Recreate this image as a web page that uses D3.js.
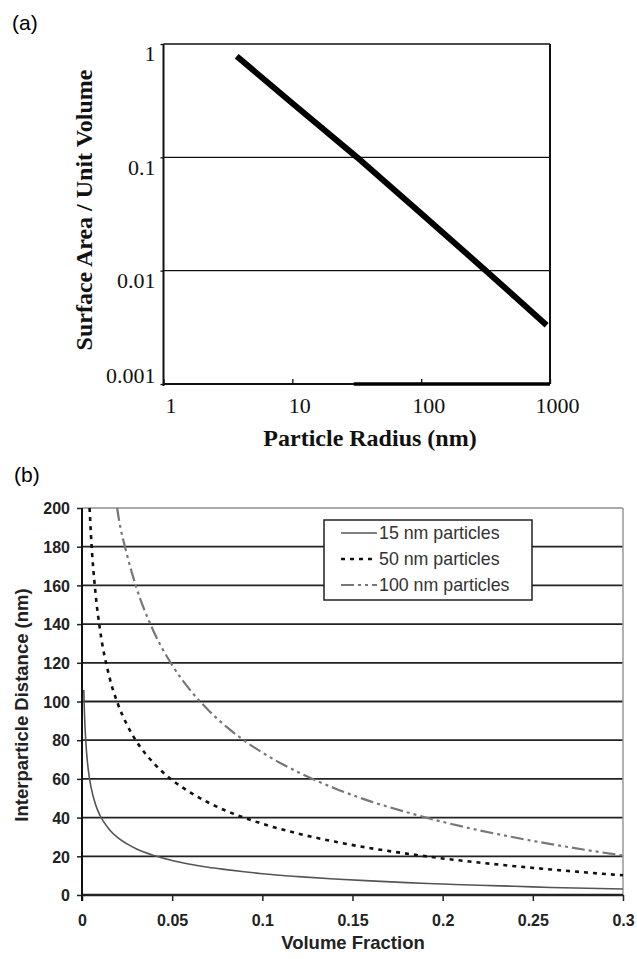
<!DOCTYPE html>
<html lang="en">
<head>
<meta charset="UTF-8">
<title>Surface area and interparticle distance</title>
<style>
  body { margin: 0; background: #fff; }
  svg { display: block; }
</style>
</head>
<body>
<svg id="chart" width="637" height="959"></svg>
<script src="https://d3js.org/d3.v7.min.js"></script>
<script>
// (a) surface area / unit volume against particle radius (log-log)
const radius = [3.7, 10, 31.8, 100, 318, 942];
const surfaceRatio = [0.78, 0.3, 0.1, 0.032, 0.01, 0.0033];
const radiusTicks = [1, 10, 100, 1000];
const ratioTicks = [1, 0.1, 0.01, 0.001];

// (b) interparticle distance against volume fraction
const phi15 = [0.001, 0.0012, 0.0015, 0.002, 0.003, 0.004, 0.005, 0.0075, 0.01, 0.015, 0.02, 0.025, 0.03, 0.04, 0.05, 0.06, 0.07, 0.08, 0.09, 0.1, 0.12, 0.14, 0.16, 0.18, 0.2, 0.22, 0.24, 0.26, 0.28, 0.3];
const dist15 = [105.9, 98.8, 90.6, 81.0, 68.8, 61.2, 55.7, 46.8, 41.1, 34.0, 29.5, 26.4, 23.9, 20.4, 17.8, 15.9, 14.3, 13.1, 12.0, 11.0, 9.5, 8.3, 7.3, 6.4, 5.7, 5.0, 4.5, 3.9, 3.5, 3.1];
const phi50 = [0.0042, 0.005, 0.0075, 0.01, 0.015, 0.02, 0.025, 0.03, 0.04, 0.05, 0.06, 0.07, 0.08, 0.09, 0.1, 0.12, 0.14, 0.16, 0.18, 0.2, 0.22, 0.24, 0.26, 0.28, 0.3];
const dist50 = [200, 185.6, 155.9, 137.0, 113.4, 98.5, 87.9, 79.7, 67.9, 59.4, 53.0, 47.8, 43.5, 39.9, 36.8, 31.7, 27.6, 24.2, 21.4, 18.9, 16.8, 14.9, 13.2, 11.6, 10.2];
const phi100 = [0.0195, 0.02, 0.025, 0.03, 0.04, 0.05, 0.06, 0.07, 0.08, 0.09, 0.1, 0.12, 0.14, 0.16, 0.18, 0.2, 0.22, 0.24, 0.26, 0.28, 0.3];
const dist100 = [200, 196.9, 175.7, 159.4, 135.7, 118.8, 105.9, 95.6, 87.0, 79.8, 73.6, 63.4, 55.2, 48.4, 42.8, 37.8, 33.5, 29.7, 26.3, 23.2, 20.4];
const legendLabels = ["15 nm particles", "50 nm particles", "100 nm particles"];
const phiTicks = [0, 0.05, 0.1, 0.15, 0.2, 0.25, 0.3];
const distTicks = [0, 20, 40, 60, 80, 100, 120, 140, 160, 180, 200];

const svg = d3.select('#chart');
const serif = '"Liberation Serif", "Times New Roman", serif';
const sans = '"Liberation Sans", Arial, sans-serif';

// ---------- panel (a) ----------
const A = { left: 163.5, right: 550, top: 44, bottom: 384 };
const xA = d3.scaleLog().domain([1, 1000]).range([A.left, A.right]);
const yA = d3.scaleLog().domain([0.001, 1]).range([A.bottom, A.top]);
const gA = svg.append('g');

gA.append('text').attr('x', 12).attr('y', 30)
  .attr('font-family', sans).attr('font-size', 21).text('(a)');

// gridlines at inner decades
gA.selectAll('.gridA').data(ratioTicks.slice(1, 3)).enter().append('line')
  .attr('x1', A.left).attr('x2', A.right)
  .attr('y1', d => yA(d)).attr('y2', d => yA(d))
  .attr('stroke', '#111').attr('stroke-width', 1.3);

// frame
gA.append('line').attr('x1', A.left).attr('x2', A.right).attr('y1', A.top).attr('y2', A.top)
  .attr('stroke', '#111').attr('stroke-width', 1.3);
gA.append('line').attr('x1', A.right).attr('x2', A.right).attr('y1', A.top).attr('y2', A.bottom)
  .attr('stroke', '#111').attr('stroke-width', 2);
gA.append('line').attr('x1', A.left).attr('x2', A.right).attr('y1', A.bottom).attr('y2', A.bottom)
  .attr('stroke', '#111').attr('stroke-width', 2.2);
gA.append('line').attr('x1', A.left).attr('x2', A.left).attr('y1', A.top).attr('y2', A.bottom + 2)
  .attr('stroke', '#111').attr('stroke-width', 2);
// heavier stretch of the bottom axis
gA.append('line').attr('x1', xA(30)).attr('x2', xA(1000)).attr('y1', yA(0.001)).attr('y2', yA(0.001))
  .attr('stroke', '#000').attr('stroke-width', 3.5);

const axA = gA.append('g').attr('transform', `translate(0,${A.bottom})`)
  .call(d3.axisBottom(xA).tickValues(radiusTicks).tickFormat(d3.format('~g')).tickSizeInner(-5).tickSizeOuter(0));
axA.select('.domain').remove();
axA.selectAll('line').attr('stroke', '#111').attr('stroke-width', 1.3);
axA.selectAll('text').attr('y', 29).attr('dy', 0).attr('dx', 7)
  .attr('font-family', serif).attr('font-size', 22).attr('fill', '#111');

const ayA = gA.append('g').attr('transform', `translate(${A.left},0)`)
  .call(d3.axisLeft(yA).tickValues(ratioTicks).tickFormat(d3.format('~g')).tickSizeInner(3).tickSizeOuter(0).tickPadding(5));
ayA.select('.domain').remove();
ayA.selectAll('line').attr('stroke', '#111').attr('stroke-width', 1.3);
ayA.selectAll('text').attr('dy', d => d === 0.001 ? '-0.05em' : '0.77em')
  .attr('font-family', serif).attr('font-size', 22).attr('fill', '#111');

gA.append('path').datum(radius.map((r, i) => [r, surfaceRatio[i]]))
  .attr('fill', 'none').attr('stroke', '#000').attr('stroke-width', 6)
  .attr('d', d3.line().x(d => xA(d[0])).y(d => yA(d[1])));

gA.append('text').attr('x', 370).attr('y', 446).attr('text-anchor', 'middle')
  .attr('font-family', serif).attr('font-weight', 'bold').attr('font-size', 24)
  .attr('fill', '#111').text('Particle Radius (nm)');
gA.append('text').attr('transform', 'translate(92,210) rotate(-90)').attr('text-anchor', 'middle')
  .attr('font-family', serif).attr('font-weight', 'bold').attr('font-size', 24)
  .attr('fill', '#111').text('Surface Area / Unit Volume');

// ---------- panel (b) ----------
const B = { left: 82, right: 623, top: 508, bottom: 895 };
const xB = d3.scaleLinear().domain([0, 0.3]).range([B.left, B.right]);
const yB = d3.scaleLinear().domain([0, 200]).range([B.bottom, B.top]);
const gB = svg.append('g');

gB.append('text').attr('x', 14).attr('y', 482)
  .attr('font-family', sans).attr('font-size', 21).text('(b)');

gB.selectAll('.gridB').data(distTicks.filter(d => d > 0 && d < 200)).enter().append('line')
  .attr('x1', B.left).attr('x2', B.right)
  .attr('y1', d => yB(d)).attr('y2', d => yB(d))
  .attr('stroke', '#222').attr('stroke-width', 1.8);
gB.append('line').attr('x1', B.left).attr('x2', B.right).attr('y1', yB(200)).attr('y2', yB(200))
  .attr('stroke', '#aaa').attr('stroke-width', 2);
gB.append('line').attr('x1', B.right).attr('x2', B.right).attr('y1', B.top).attr('y2', B.bottom)
  .attr('stroke', '#999').attr('stroke-width', 1.5);

const axB = gB.append('g').attr('transform', `translate(0,${B.bottom})`)
  .call(d3.axisBottom(xB).tickValues(phiTicks).tickFormat(d => d === 0 ? '0' : String(+d.toFixed(2)))
    .tickSizeInner(6).tickSizeOuter(0));
axB.select('.domain').remove();
axB.selectAll('line').attr('stroke', '#222').attr('stroke-width', 1.5);
axB.selectAll('text').attr('y', 31).attr('dy', 0)
  .attr('font-family', sans).attr('font-weight', 'bold').attr('font-size', 16).attr('fill', '#222');

const ayB = gB.append('g').attr('transform', `translate(${B.left},0)`)
  .call(d3.axisLeft(yB).tickValues(distTicks).tickSizeInner(5).tickSizeOuter(0).tickPadding(7));
ayB.select('.domain').remove();
ayB.selectAll('line').attr('stroke', '#222').attr('stroke-width', 1.5);
ayB.selectAll('text').attr('dy', '0.36em')
  .attr('font-family', sans).attr('font-weight', 'bold').attr('font-size', 16).attr('fill', '#222');

gB.append('line').attr('x1', B.left).attr('x2', B.right).attr('y1', B.bottom).attr('y2', B.bottom)
  .attr('stroke', '#222').attr('stroke-width', 2.4);
gB.append('line').attr('x1', B.left).attr('x2', B.left).attr('y1', B.top).attr('y2', B.bottom + 6)
  .attr('stroke', '#111').attr('stroke-width', 2);

const series = [
  { x: phi15, y: dist15, stroke: '#555', width: 1.6, dash: null },
  { x: phi50, y: dist50, stroke: '#111', width: 2.6, dash: '4 5' },
  { x: phi100, y: dist100, stroke: '#777', width: 2.2, dash: '13 4 3 4 3 4' }
];
const lineB = d3.line().x(d => xB(d[0])).y(d => yB(d[1])).curve(d3.curveMonotoneX);
series.forEach(s => {
  gB.append('path').datum(s.x.map((v, i) => [v, s.y[i]]))
    .attr('fill', 'none').attr('stroke', s.stroke).attr('stroke-width', s.width)
    .attr('stroke-dasharray', s.dash).attr('d', lineB);
});

// legend
const leg = gB.append('g').attr('transform', 'translate(324,520)');
leg.append('rect').attr('width', 208).attr('height', 80)
  .attr('fill', '#fff').attr('stroke', '#222').attr('stroke-width', 1.5);
legendLabels.forEach((lab, i) => {
  const cy = 13 + i * 26;
  leg.append('line').attr('x1', 17).attr('x2', 53).attr('y1', cy).attr('y2', cy)
    .attr('stroke', series[i].stroke).attr('stroke-width', series[i].width)
    .attr('stroke-dasharray', series[i].dash);
  leg.append('text').attr('x', 55).attr('y', cy).attr('dy', '0.36em')
    .attr('font-family', sans).attr('font-size', 17.8).attr('fill', '#333').text(lab);
});

gB.append('text').attr('x', 353).attr('y', 949).attr('text-anchor', 'middle')
  .attr('font-family', sans).attr('font-weight', 'bold').attr('font-size', 18.5)
  .attr('fill', '#222').text('Volume Fraction');
gB.append('text').attr('transform', 'translate(28,705) rotate(-90)').attr('text-anchor', 'middle')
  .attr('font-family', sans).attr('font-weight', 'bold').attr('font-size', 18.5)
  .attr('fill', '#222').text('Interparticle Distance (nm)');
</script>
</body>
</html>
